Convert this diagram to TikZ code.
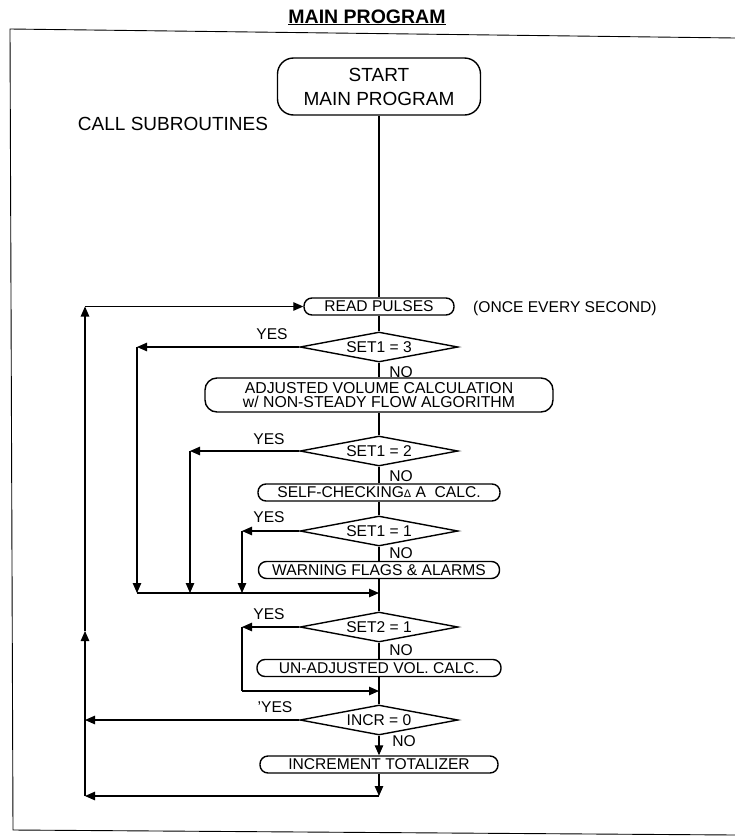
\documentclass[tikz,border=0pt]{standalone}
\usepackage{fontspec}
\setmainfont{Liberation Sans}
\usetikzlibrary{shapes.geometric,arrows.meta}

\tikzset{
  prog/.style={draw, line width=1.4pt, rounded corners=8pt, minimum height=17pt,
    inner sep=0pt, font=\fontsize{15.6}{15.6}\selectfont},
  test/.style={draw, line width=1.4pt, shape=diamond, aspect=5, minimum width=158pt,
    minimum height=30pt, inner sep=0pt, font=\fontsize{15.6}{15.6}\selectfont},
  lbl/.style={inner sep=0pt, font=\fontsize{15.6}{15.6}\selectfont},
  flow/.style={line width=1.1pt},
  arr/.style={flow, -{Triangle[length=10pt,width=8.5pt]}},
}

\begin{document}
\begin{tikzpicture}[x=1pt,y=-1pt]
\useasboundingbox (0,0) rectangle (735,836);
\draw[line width=0.9pt] (735,38) -- (10,29) -- (13,830) -- (735,835);

\node[anchor=base, inner sep=0pt, font=\fontsize{19.5}{19.5}\selectfont\bfseries] (title) at (367,23) {\underline{MAIN PROGRAM}};
\node[prog, rounded corners=16pt, minimum width=203pt, minimum height=57pt, align=center,
  font=\fontsize{19}{24}\selectfont] (start) at (379,86.5) {START\\MAIN PROGRAM};
\node[lbl, font=\fontsize{19}{19}\selectfont] (callsub) at (173,124) {CALL SUBROUTINES};

\node[prog, minimum width=150pt] (read) at (379,306.5) {READ PULSES};
\node[lbl, anchor=west] (once) at (473,308) {(ONCE EVERY SECOND)};
\node[test] (set13) at (379,347) {SET1 = 3};
\node[prog, rounded corners=12pt, minimum width=348pt, minimum height=34pt, align=center,
  font=\fontsize{15.8}{14.5}\selectfont] (adj) at (379,395) {ADJUSTED VOLUME CALCULATION\\w/ NON-STEADY FLOW ALGORITHM};
\node[test] (set12) at (379,451) {SET1 = 2};
\node[prog, minimum width=242pt] (selfchk) at (379,492.5) {SELF-CHECKING{\fontsize{11}{11}\selectfont Δ} A\ \ CALC.};
\node[test] (set11) at (379,531) {SET1 = 1};
\node[prog, minimum width=241pt] (warn) at (379,570) {WARNING FLAGS \& ALARMS};
\node[test] (set21) at (379,627) {SET2 = 1};
\node[prog, minimum width=244pt] (unadj) at (379,668) {UN-ADJUSTED VOL. CALC.};
\node[test] (incr) at (379,720) {INCR = 0};
\node[prog, minimum width=238pt] (inc) at (379,764.5) {INCREMENT TOTALIZER};

\node[lbl] (yes1) at (272,334) {YES};
\node[lbl] (yes2) at (269,439) {YES};
\node[lbl] (yes3) at (269,517) {YES};
\node[lbl] (yes4) at (269,614) {YES};
\node[lbl] (yes5) at (275,707) {'YES};
\node[lbl] (no1) at (401,372) {NO};
\node[lbl] (no2) at (401,476) {NO};
\node[lbl] (no3) at (401,553) {NO};
\node[lbl] (no4) at (401,650) {NO};
\node[lbl] (no5) at (404,741) {NO};

\coordinate (topleft) at (85,306.5);
\coordinate (midleft) at (85,631);
\coordinate (botleft) at (85,796);
\coordinate (incrleft) at (85,720);
\coordinate (botmain) at (379,796);
\coordinate (b1) at (137,347);
\coordinate (b1d) at (137,593);
\coordinate (b2) at (190,451);
\coordinate (b2d) at (190,593);
\coordinate (b3) at (242,531);
\coordinate (b3d) at (242,593);
\coordinate (join1) at (379,593);
\coordinate (b4) at (242,627);
\coordinate (b4d) at (242,691);
\coordinate (join2) at (379,691);

\draw[line width=2.8pt] (start) -- (read);
\draw[flow] (read) -- (set13);
\draw[flow] (set13) -- (adj);
\draw[flow] (adj) -- (set12);
\draw[flow] (set12) -- (selfchk);
\draw[flow] (selfchk) -- (set11);
\draw[flow] (set11) -- (warn);
\draw[flow] (warn) -- (set21);
\draw[flow] (set21) -- (unadj);
\draw[flow] (unadj) -- (incr);
\draw[arr] (incr) -- (inc);
\draw[arr] (inc) -- (botmain);
\draw[arr] (botmain) -- (botleft);
\draw[arr] (botleft) -- (midleft);
\draw[arr] (midleft) -- (topleft);
\draw[arr] (topleft) -- (read);
\draw[arr] (incr) -- (incrleft);

\draw[arr] (set13) -- (b1);
\draw[arr] (set12) -- (b2);
\draw[arr] (set11) -- (b3);
\draw[arr] (b1) -- (b1d);
\draw[arr] (b2) -- (b2d);
\draw[arr] (b3) -- (b3d);
\draw[arr] (b1d) -- (join1);

\draw[arr] (set21) -- (b4);
\draw[flow] (b4) -- (b4d);
\draw[arr] (b4d) -- (join2);
\end{tikzpicture}
\end{document}
